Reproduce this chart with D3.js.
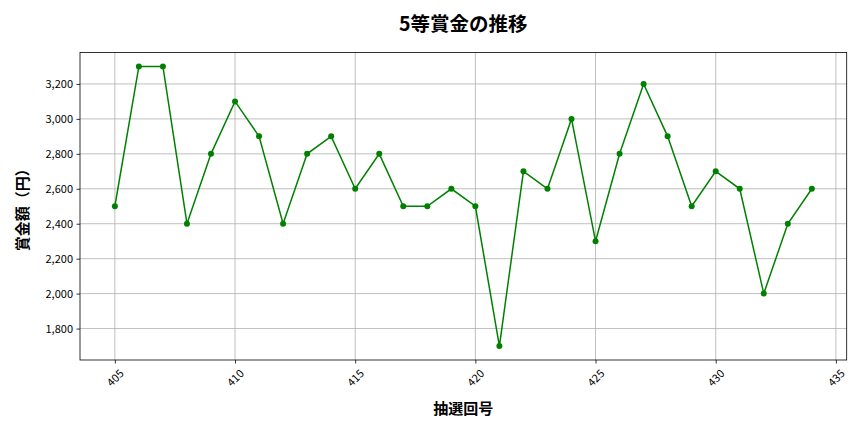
<!DOCTYPE html>
<html><head><meta charset="utf-8">
<script src="https://cdn.jsdelivr.net/npm/d3@7"></script>
<style>body{margin:0;background:#fff}svg{font-family:"Noto Sans CJK JP","Noto Sans",sans-serif}</style>
</head><body><svg id="c" width="864" height="432"></svg>
<script>
const draws = [405,406,407,408,409,410,411,412,413,414,415,416,417,418,419,420,421,422,423,424,425,426,427,428,429,430,431,432,433,434];
const prizes = [2500,3300,3300,2400,2800,3100,2900,2400,2800,2900,2600,2800,2500,2500,2600,2500,1700,2700,2600,3000,2300,2800,3200,2900,2500,2700,2600,2000,2400,2600];
const xTicks = [405,410,415,420,425,430,435];
const yTicks = [1800,2000,2200,2400,2600,2800,3000,3200];
const title = "5等賞金の推移";
const xLabel = "抽選回号";
const yLabel = "賞金額（円）";

const svg = d3.select("#c");
const L=80,R=846.7,T=52.5,B=360;
const x = d3.scaleLinear().domain([403.55,435.45]).range([L,R]);
const y = d3.scaleLinear().domain([1620,3380]).range([B,T]);

// grid
svg.append("g").selectAll("line").data(xTicks).join("line")
  .attr("x1",d=>x(d)).attr("x2",d=>x(d)).attr("y1",T).attr("y2",B)
  .attr("stroke","#b0b0b0").attr("stroke-width",0.8);
svg.append("g").selectAll("line").data(yTicks).join("line")
  .attr("x1",L).attr("x2",R).attr("y1",d=>y(d)).attr("y2",d=>y(d))
  .attr("stroke","#b0b0b0").attr("stroke-width",0.8);

// axes
const xa = svg.append("g").attr("transform",`translate(0,${B})`)
  .call(d3.axisBottom(x).tickValues(xTicks).tickSize(3.5).tickPadding(3).tickFormat(d3.format("d")));
xa.selectAll("text").attr("font-size",11).attr("fill","#000")
  .attr("text-anchor","middle").attr("y",0).attr("dy","0.35em")
  .attr("transform","translate(0,18) rotate(-45)");
const ya = svg.append("g").attr("transform",`translate(${L},0)`)
  .call(d3.axisLeft(y).tickValues(yTicks).tickSize(3.5).tickPadding(3.5).tickFormat(d3.format(",")));
ya.selectAll("text").attr("font-size",11).attr("fill","#000");
[xa,ya].forEach(a=>{a.select(".domain").remove();a.selectAll(".tick line").attr("stroke","#000").attr("stroke-width",0.8);a.attr("font-family",null);});

svg.append("rect").attr("x",L).attr("y",T).attr("width",R-L).attr("height",B-T)
  .attr("fill","none").attr("stroke","#000").attr("stroke-width",0.8);

// line
svg.append("path").datum(draws.map((d,i)=>[d,prizes[i]]))
  .attr("fill","none").attr("stroke","green").attr("stroke-width",1.5)
  .attr("d",d3.line().x(d=>x(d[0])).y(d=>y(d[1])));
svg.append("g").selectAll("circle").data(draws).join("circle")
  .attr("cx",d=>x(d)).attr("cy",(d,i)=>y(prizes[i])).attr("r",3).attr("fill","green");

svg.append("text").attr("x",(L+R)/2).attr("y",31).attr("text-anchor","middle")
  .attr("font-size",19.5).attr("font-weight","bold").text(title);
svg.append("text").attr("x",(L+R)/2).attr("y",414).attr("text-anchor","middle")
  .attr("font-size",15).attr("font-weight","bold").text(xLabel);
svg.append("text").attr("transform",`translate(28,${(T+B)/2}) rotate(-90)`).attr("text-anchor","middle")
  .attr("font-size",15).attr("font-weight","bold").text(yLabel);
</script></body></html>
